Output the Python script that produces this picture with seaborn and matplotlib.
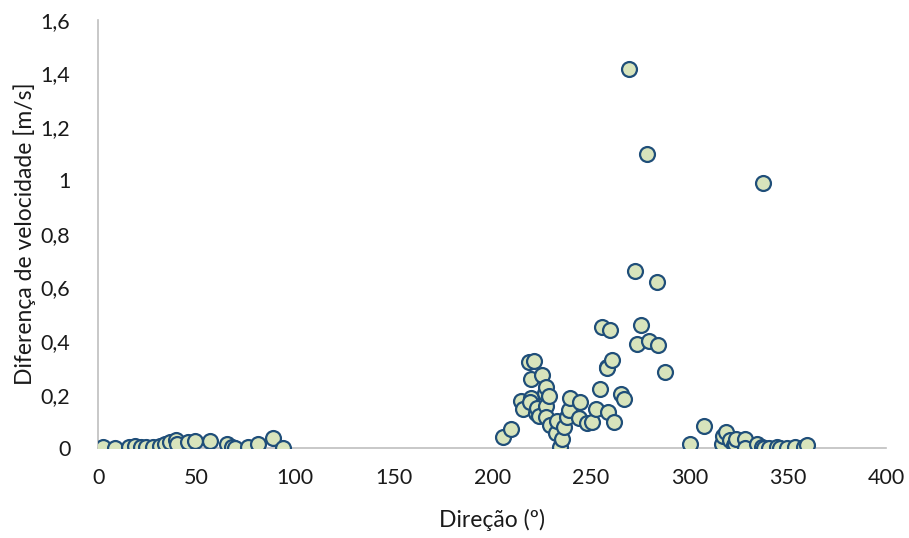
import pandas as pd
import seaborn as sns
import matplotlib.pyplot as plt
from matplotlib.ticker import FuncFormatter, MultipleLocator

# Direction (deg) and speed difference (m/s)
direcao = [
    2.4, 8.6, 15.4, 18.8, 21.7, 24.5, 27.8, 31.5, 34.0, 36.5, 39.6, 39.9, 45.8, 49.2,
    56.9, 65.3, 67.8, 69.5, 75.8, 80.9, 88.7, 93.6,
    205.7, 209.6, 214.6, 215.4, 218.6, 219.6, 219.8, 219.3, 221.0, 222.3, 222.7, 223.5,
    225.5, 226.9, 227.1, 227.4, 227.4, 228.9, 229.4, 232.5, 232.8, 234.5, 235.4, 236.2,
    238.0, 238.8, 239.6, 244.0, 244.7, 248.0, 250.6, 252.6, 254.5, 255.7, 258.5, 258.5,
    259.0, 259.9, 260.7, 261.6, 265.5, 266.7, 269.5, 272.7, 273.6, 275.5, 278.7, 279.7,
    283.8, 283.9, 287.5,
    300.5, 307.6, 316.6, 317.1, 318.8, 320.8, 322.5, 323.4, 323.7, 328.4, 328.4, 334.3,
    336.9, 337.6, 337.7, 340.3, 344.5, 346.0, 349.6, 353.8, 358.0, 359.7,
]
diferenca = [
    0.005, 0.001, 0.005, 0.007, 0.005, 0.006, 0.005, 0.007, 0.017, 0.024, 0.030, 0.017, 0.024, 0.027,
    0.026, 0.014, 0.005, 0.000, 0.005, 0.014, 0.039, 0.000,
    0.042, 0.071, 0.177, 0.145, 0.323, 0.260, 0.186, 0.173, 0.325, 0.130, 0.151, 0.120,
    0.275, 0.207, 0.157, 0.227, 0.115, 0.196, 0.086, 0.055, 0.102, 0.005, 0.036, 0.080,
    0.117, 0.142, 0.186, 0.111, 0.173, 0.095, 0.098, 0.148, 0.220, 0.452, 0.304, 0.298,
    0.136, 0.440, 0.329, 0.098, 0.202, 0.182, 1.417, 0.663, 0.391, 0.460, 1.100, 0.400,
    0.622, 0.385, 0.285,
    0.015, 0.082, 0.017, 0.045, 0.061, 0.030, 0.011, 0.017, 0.036, 0.036, 0.000, 0.017,
    0.005, 0.990, 0.000, 0.000, 0.005, 0.000, 0.000, 0.005, 0.005, 0.011,
]

df = pd.DataFrame({"direcao": direcao, "diferenca": diferenca})

sns.set_style("white")
plt.rcParams['font.family'] = ['Lato', 'DejaVu Sans']
txt = "#1a1a1a"

fig = plt.figure(figsize=(9.09, 5.38), dpi=100)
ax = fig.add_axes([0.108, 0.167, 0.867, 0.796])

sns.scatterplot(data=df, x="direcao", y="diferenca", ax=ax, s=115,
                color="#d8e4bc", edgecolor="#1f4e79", linewidth=1.6, zorder=3)

ax.set_xlim(0, 400)
ax.set_ylim(0, 1.6)
ax.xaxis.set_major_locator(MultipleLocator(50))
ax.yaxis.set_major_locator(MultipleLocator(0.2))
ax.yaxis.set_major_formatter(FuncFormatter(lambda v, p: f"{v:.1f}".rstrip("0").rstrip(".").replace(".", ",") if v else "0"))

ax.set_xlabel("Direção (º)", fontsize=16.5, color=txt)
ax.set_ylabel("Diferença de velocidade [m/s]", fontsize=16.5, color=txt)
ax.xaxis.set_label_coords(0.5, -0.168)
ax.xaxis.label.set_verticalalignment("center")
ax.yaxis.set_label_coords(-0.093, 0.5)
ax.yaxis.label.set_verticalalignment("center")

ax.tick_params(axis="both", length=0, labelsize=15.5, labelcolor=txt)
ax.tick_params(axis="x", pad=14)
ax.tick_params(axis="y", pad=20)

for side in ["top", "right"]:
    ax.spines[side].set_visible(False)
for side in ["left", "bottom"]:
    ax.spines[side].set_color("#bfbfbf")
    ax.spines[side].set_linewidth(1.2)

fig.savefig("out.png", dpi=100)
